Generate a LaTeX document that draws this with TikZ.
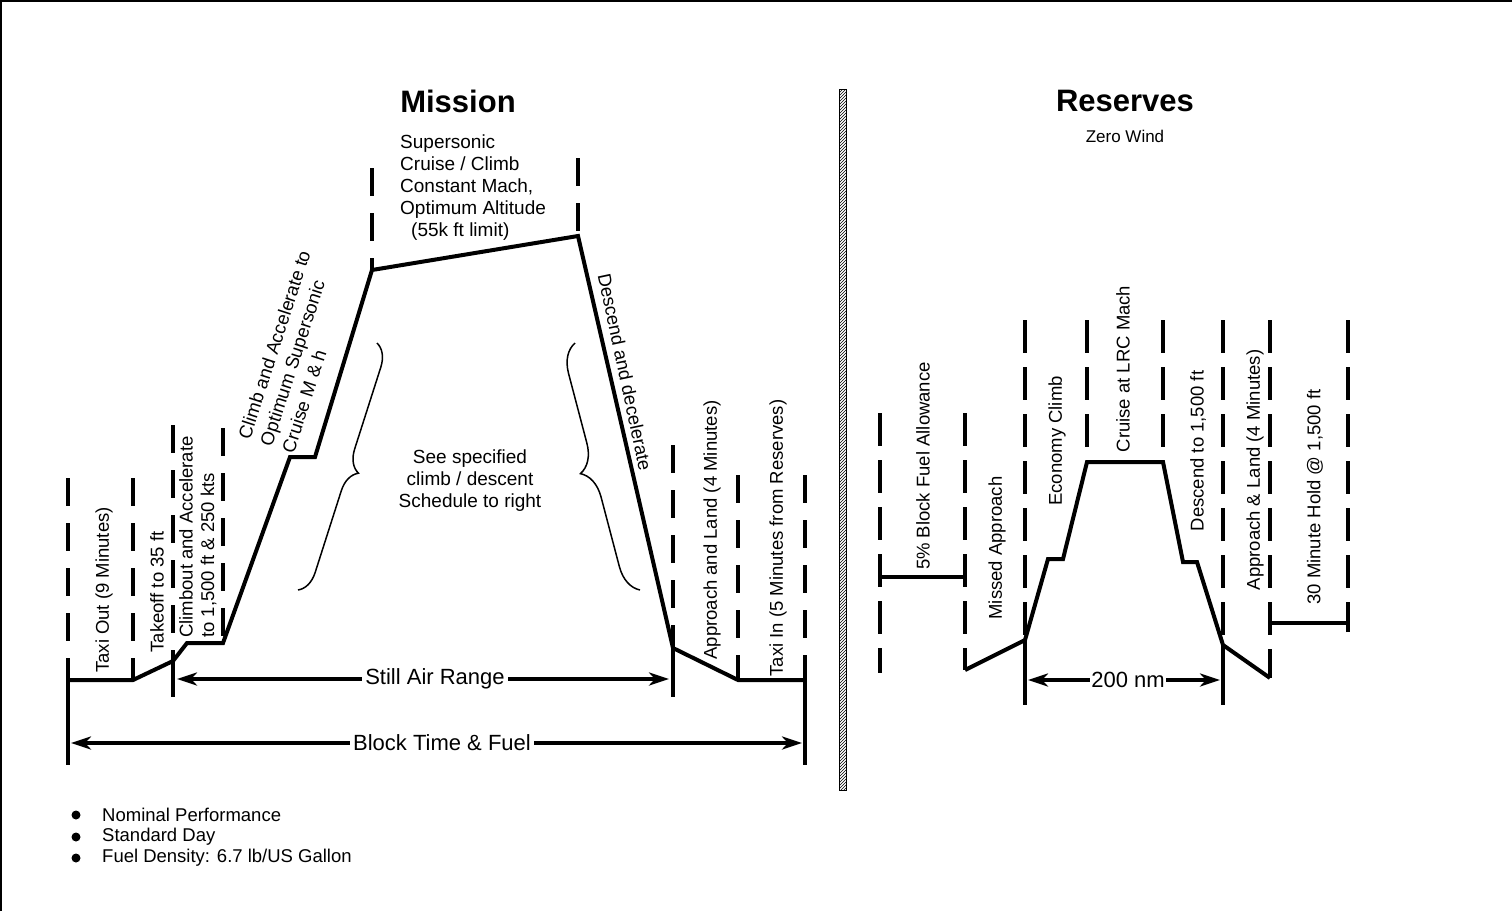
\documentclass[tikz,border=0pt]{standalone}
\usepackage{fontspec}
\setmainfont{Liberation Sans}
\usetikzlibrary{arrows.meta,decorations.pathreplacing,patterns}

\tikzset{
  prof/.style={line width=4pt},
  mdash/.style={line width=4.5pt, dash pattern=on 28pt off 17pt},
  rdash/.style={line width=4.5pt, dash pattern=on 33pt off 14pt},
  dimarrow/.style={line width=3.5pt,
    {Stealth[length=20pt,width=13pt,inset=6pt]}-{Stealth[length=20pt,width=13pt,inset=6pt]}},
  dimlbl/.style={fill=white, inner sep=3pt, font=\fontsize{22}{24}\selectfont},
  vlbl/.style={rotate=90, inner sep=0pt, font=\fontsize{18.5}{21.5}\selectfont},
  brc/.style={line width=1.5pt, decorate, decoration={brace, amplitude=#1}},
}

\begin{document}
\begin{tikzpicture}[x=1pt, y=-1pt]
\useasboundingbox (0,0) rectangle (1512,911);
\draw[line width=2.5pt] (1,911) -- (1,1) -- (1512,1);

% mission profile
\coordinate (m0) at (68,680);
\coordinate (m1) at (133,680);
\coordinate (m2) at (173,661);
\coordinate (m3) at (187,643);
\coordinate (m4) at (223,643);
\coordinate (m5) at (290,457);
\coordinate (m6) at (315,457);
\coordinate (m7) at (372,270);
\coordinate (m8) at (578,236);
\coordinate (m9) at (673,648);
\coordinate (m10) at (738,680);
\coordinate (m11) at (805,680);
\coordinate (t0) at (68,478);
\coordinate (t1) at (133,478);
\coordinate (t2) at (173,425);
\coordinate (t3) at (223,428);
\coordinate (t4) at (372,168);
\coordinate (t5) at (578,158);
\coordinate (t6) at (673,445);
\coordinate (t7) at (738,475);
\coordinate (t8) at (805,475);
\coordinate (b0) at (68,765);
\coordinate (b2) at (173,697);
\coordinate (b6) at (673,697);
\coordinate (b8) at (805,765);
\coordinate (sa0) at (177,679);
\coordinate (sa1) at (669,679);
\coordinate (bt0) at (71,743);
\coordinate (bt1) at (802,743);

\draw[prof] (m0) -- (m1) -- (m2) -- (m3) -- (m4) -- (m5) -- (m6) -- (m7)
  -- (m8) -- (m9) -- (m10) -- (m11);
\draw[mdash] (t0) -- (m0) (t1) -- (m1) (t2) -- (m2) (t3) -- (m4) (t4) -- (m7)
  (t5) -- (m8) (t6) -- (m9) (t7) -- (m10) (t8) -- (m11);
\draw[prof] (m0) -- (b0) (m2) -- (b2) (m9) -- (b6) (m11) -- (b8);

\draw[dimarrow] (sa0) -- (sa1);
\node[dimlbl] (sar) at (435,679) {Still Air Range};
\draw[dimarrow] (bt0) -- (bt1);
\node[dimlbl] (btf) at (442,743) {Block Time \& Fuel};

\node[font=\fontsize{31}{34}\selectfont\bfseries] (mis) at (458,101) {Mission};
\node[vlbl] (taxo) at (104,590) {Taxi Out (9 Minutes)};
\node[vlbl] (tkof) at (157,592) {Takeoff to 35 ft};
\node[vlbl, anchor=north west, align=left] (clmb) at (179,638)
  {Climbout and Accelerate\\to 1,500 ft \& 250 kts};
\node[rotate=72, anchor=north west, align=left, inner sep=0pt,
  font=\fontsize{18.5}{23}\selectfont] (accl) at (237,436)
  {Climb and Accelerate to\\Optimum Supersonic\\Cruise M \& h};
\node[anchor=north west, align=left, inner sep=0pt,
  font=\fontsize{19}{22}\selectfont] (crs) at (400,135)
  {Supersonic\\Cruise / Climb\\Constant Mach,\\Optimum Altitude\\\hspace*{11pt}(55k ft limit)};
\node[rotate=-78, inner sep=0pt, font=\fontsize{18.5}{21}\selectfont] (desc) at (625,372)
  {Descend and decelerate};
\draw[brc=22pt] (377,343) -- (298,590);
\draw[brc=28pt] (640,590) -- (575,343);
\node[align=center, font=\fontsize{19}{22}\selectfont] (sched) at (470,481)
  {See specified\\climb / descent\\Schedule to right};
\node[vlbl] (appr) at (712,530) {Approach and Land (4 Minutes)};
\node[vlbl] (taxi) at (778,538) {Taxi In (5 Minutes from Reserves)};

% divider
\draw[line width=1pt, pattern=north east lines] (839,89) rectangle (846,790);

% reserves profile
\coordinate (r0) at (965,670);
\coordinate (r1) at (1025,640);
\coordinate (r2) at (1048,559);
\coordinate (r3) at (1063,559);
\coordinate (r4) at (1087,462);
\coordinate (r5) at (1163,462);
\coordinate (r6) at (1183,562);
\coordinate (r7) at (1197,562);
\coordinate (r8) at (1223,645);
\coordinate (r9) at (1270,678);
\coordinate (u0) at (880,413);
\coordinate (v0) at (880,673);
\coordinate (u1) at (965,413);
\coordinate (u2) at (1025,320);
\coordinate (u3) at (1087,320);
\coordinate (u4) at (1163,320);
\coordinate (u5) at (1223,320);
\coordinate (u6) at (1270,320);
\coordinate (u7) at (1348,320);
\coordinate (v7) at (1348,628);
\coordinate (w2) at (1025,705);
\coordinate (w5) at (1223,705);
\coordinate (fa0) at (880,577);
\coordinate (fa1) at (965,577);
\coordinate (hb0) at (1270,623);
\coordinate (hb1) at (1348,623);
\coordinate (nm0) at (1028,680);
\coordinate (nm1) at (1220,680);

\draw[prof] (r0) -- (r1) -- (r2) -- (r3) -- (r4) -- (r5) -- (r6) -- (r7) -- (r8) -- (r9);
\draw[rdash] (u0) -- (v0) (u1) -- (r0) (u2) -- (r1) (u3) -- (r4) (u4) -- (r5)
  (u5) -- (r8) (u6) -- (r9) (u7) -- (v7);
\draw[prof] (r1) -- (w2) (r8) -- (w5);
\draw[prof] ([yshift=-9pt]fa0) -- ([yshift=9pt]fa0) (fa0) -- (fa1) ([yshift=-9pt]fa1) -- ([yshift=9pt]fa1);
\draw[prof] ([yshift=-9pt]hb0) -- ([yshift=9pt]hb0) (hb0) -- (hb1) ([yshift=-9pt]hb1) -- ([yshift=9pt]hb1);
\draw[dimarrow] (nm0) -- (nm1);
\node[dimlbl, inner sep=1pt] (nm) at (1128,680) {200 nm};

\node[font=\fontsize{31}{34}\selectfont\bfseries] (res) at (1125,101) {Reserves};
\node[font=\fontsize{17}{20}\selectfont] (zw) at (1125,136) {Zero Wind};
\node[vlbl] (allw) at (923,466) {5\% Block Fuel Allowance};
\node[vlbl] (miss) at (997,548) {Missed Approach};
\node[vlbl] (econ) at (1057,441) {Economy Climb};
\node[vlbl] (lrc) at (1123,369) {Cruise at LRC Mach};
\node[vlbl] (dsc) at (1198,451) {Descend to 1,500 ft};
\node[vlbl] (land) at (1255,470) {Approach \& Land (4 Minutes)};
\node[vlbl] (hold) at (1315,497) {30 Minute Hold @ 1,500 ft};

% notes
\foreach \yy/\txt [count=\i] in {815/{Nominal Performance}, 837/{Standard Day},
    858/{Fuel Density: 6.7 lb/US Gallon}} {
  \fill (76,\yy) circle (4.5pt);
  \node[anchor=west, inner sep=0pt, font=\fontsize{18.5}{21}\selectfont] (note\i) at (102,\yy) {\txt};
}
\end{tikzpicture}
\end{document}
